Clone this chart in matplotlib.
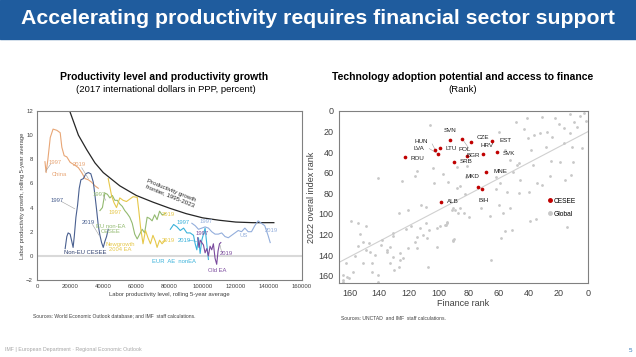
import matplotlib
matplotlib.use("Agg")
import matplotlib.pyplot as plt
from matplotlib.patches import Rectangle
from matplotlib.lines import Line2D

plt.rcParams['font.family'] = ['Liberation Sans', 'DejaVu Sans']

# ---- left chart data (productivity level, growth) ----
frontier_x = [20000, 25000, 30000, 35000, 40000, 50000, 60000, 70000, 80000, 90000, 100000, 110000, 120000, 130000, 143000]
frontier_y = [11.9, 10.0, 8.8, 7.7, 6.9, 5.8, 5.0, 4.45, 3.95, 3.5, 3.15, 2.95, 2.8, 2.75, 2.75]

china_x = [4800, 5500, 6500, 8000, 9700, 12000, 14000, 15000, 16400, 18000, 20000, 23000, 25000, 27000, 29000, 31000, 33000, 35000, 37000]
china_y = [7.8, 6.9, 7.9, 9.8, 10.5, 10.4, 10.2, 9.0, 8.3, 8.2, 7.75, 7.5, 7.3, 6.9, 6.4, 6.3, 6.1, 5.8, 5.6]

noneu_x = [17000, 18000, 18800, 20000, 21000, 21800, 22500, 23500, 24500, 25500, 26500, 28000, 29500, 31000, 32500, 34000, 35000, 36000, 37000, 38000, 39000, 40000, 41000, 42000, 43000]
noneu_y = [0.6, 1.6, 1.9, 1.8, 1.2, 0.7, 1.6, 3.2, 4.2, 5.6, 6.3, 6.4, 6.8, 6.9, 6.8, 6.1, 5.0, 3.8, 2.5, 1.7, 1.1, 0.7, 1.2, 1.6, 2.2]

eunonea_x = [38000, 39500, 41000, 42500, 44000, 45500, 47000, 48500, 50000, 51500, 53000, 54500, 56000, 57500, 59000, 60500, 62000, 63500, 65000, 66500, 68000, 69500, 71000, 72500, 74000, 75500, 77500]
eunonea_y = [3.75, 4.0, 5.2, 5.1, 4.8, 5.0, 4.6, 4.6, 4.3, 4.1, 3.75, 3.5, 3.2, 2.7, 1.8, 1.4, 1.8, 2.2, 1.9, 3.2, 3.1, 2.9, 3.4, 3.0, 3.7, 3.4, 3.5]

newgrowth_x = [43000, 44000, 45000, 46500, 48000, 50000, 52000, 54000, 56000, 58000, 60500, 61500, 62500, 64000, 65500, 67000, 68500, 70000, 71500, 72500, 74000, 75500, 77500]
newgrowth_y = [6.4, 5.7, 5.0, 4.4, 4.0, 4.8, 4.6, 4.5, 4.7, 4.9, 4.85, 3.7, 2.4, 1.0, 2.1, 1.5, 1.0, 1.7, 1.2, 0.7, 1.3, 1.0, 1.3]

euae_x = [80500, 82500, 84500, 86500, 88500, 90500, 92500, 94500, 95500, 96500, 97500, 98500, 99500, 100500, 101500, 102500, 103500]
euae_y = [2.2, 2.6, 2.4, 2.1, 2.3, 1.9, 1.9, 1.7, 1.0, 0.5, 1.5, 0.2, 1.3, 1.8, 2.3, 1.0, -0.3]

us_x = [93500, 95500, 97500, 99500, 101500, 103500, 105500, 107500, 109500, 111500, 113500, 115500, 117500, 119500, 121500, 123500, 125500, 127500, 129500, 131500, 133500, 135500, 137500, 139500, 140800]
us_y = [2.7, 2.5, 2.2, 2.3, 2.4, 2.3, 2.0, 1.8, 1.8, 1.9, 1.6, 1.5, 1.7, 1.9, 2.1, 2.0, 2.3, 2.0, 2.0, 2.5, 2.9, 2.7, 2.5, 1.7, 1.1]

oldea_x = [97000, 97800, 98600, 99500, 100500, 101500, 102500, 103500, 104500, 105500, 106500, 107500, 108500, 109300, 110200, 111000]
oldea_y = [1.5, 0.7, 1.3, 1.1, 0.9, 0.25, 0.6, 0.0, 0.8, 0.5, 1.0, -0.2, -0.7, 0.4, 1.0, 1.1]

left_xticks = [0, 20000, 40000, 60000, 80000, 100000, 120000, 140000, 160000]
left_yticks = [-2, 0, 2, 4, 6, 8, 10, 12]

# ---- right chart data (ranks) ----
global_x = [105.8, 141, 124.5, 114.5, 115.8, 103.7, 97, 93.7, 87.7, 81, 81.7, 159, 154, 148.6, 153, 151, 154, 147,
            146, 148.6, 156, 151, 162.6, 164.6, 161.3, 164, 160, 157.6, 164.6, 139, 142.6, 144.6, 141, 144.6, 140.6,
            138, 134.5, 135, 133, 131, 131, 133, 130.5, 129.9, 125.8, 126.5, 127, 121, 121.8, 118.5, 125.8, 123.8,
            121, 115.8, 115, 114.5, 113, 111.8, 108.4, 108.4, 110.4, 107.7, 106.4, 107, 101, 101, 99, 95, 94.4, 90.4,
            91, 90.4, 89, 87.7, 85.7, 82.3, 85.7, 83, 79.6, 103, 89.7,
            48.2, 40.8, 30.8, 22, 12, 5.4, 2.7, 1.3, 9.4, 19.4, 16, 7.4, 60, 42.8, 36, 32, 27.4, 24, 12, 40, 16, 10.7,
            4, 28, 38, 46, 47.5, 36.8, 24.8, 18.7, 10, 50, 45.5, 25.4, 15.4, 11.4, 30.8, 34, 39.5, 46, 54, 62, 62, 59,
            52, 59.6, 57, 66, 72, 87, 94.4, 95.7, 38.8, 34.8, 14, 51, 55.6, 58.2, 90.4, 65, 55.6, 52]
global_y = [13.6, 65, 68, 58, 63, 55.5, 61, 69, 54, 53, 64, 107, 109, 112, 119, 127, 131, 128,
            137, 135, 141, 148, 148, 159, 161, 164, 162, 156, 166, 130, 140, 148, 159, 156, 166,
            125, 135, 137, 132, 118, 121, 148, 142, 154, 145, 151, 99, 96, 115, 112, 138, 143,
            133, 127, 133, 122, 114, 91, 93, 109, 120, 123, 116, 151, 114, 132, 112, 111, 109, 125,
            96, 94, 96, 75, 73, 81, 94, 99, 103, 70, 124,
            10.7, 6.8, 5.8, 6.8, 2.9, 4.9, 2, 9.7, 10.7, 12.6, 16.5, 15.5, 20, 17.5, 23.3, 21.4, 20.4, 25, 21.4, 26, 31, 34.6,
            36, 35, 37.8, 50.5, 52.4, 52.4, 48.5, 49.5, 49.5, 59, 67, 63, 67, 62, 72, 70, 78.6, 79.6, 78.6, 75.7, 64, 70,
            94, 91, 99, 102, 94, 99, 107.5, 110.7, 107, 105, 112.6, 115.5, 116.5, 123, 126, 144.7, 37.9, 47.6]

cesee_names = ['SVN', 'LTU', 'HUN', 'LVA', 'ROU', 'SRB', 'ALB', 'POL', 'BGR', 'CZE', 'HRV', 'EST', 'SVK', 'MNE', 'MKD', 'BIH']
cesee_x = [92.4, 99.0, 102.4, 100.4, 122.5, 89.7, 98.4, 81.0, 70.3, 78.3, 84.3, 64.3, 61.0, 68.3, 73.6, 71.0]
cesee_y = [28.2, 36.0, 37.9, 41.7, 44.7, 49.5, 88.3, 43.7, 41.7, 30.0, 27.2, 29.0, 39.6, 59.0, 74.0, 76.0]

trend_x = [167, 0]
trend_y = [147, 20]

rank_ticks = [0, 20, 40, 60, 80, 100, 120, 140, 160]

W, H = 636, 357
fig = plt.figure(figsize=(6.36, 3.57), dpi=100)

# banner
fig.patches.append(Rectangle((0, 1 - 39 / H), 1, 39 / H, transform=fig.transFigure, color='#1F5C9E', zorder=0))
fig.text(318 / W, 1 - 19 / H, 'Accelerating productivity requires financial sector support', color='white',
         fontsize=15.3, fontweight='bold', ha='center', va='center')

# sub titles
fig.text(164 / W, 1 - 77 / H, 'Productivity level and productivity growth', fontsize=7.5, fontweight='bold', ha='center', va='center')
fig.text(166 / W, 1 - 90 / H, '(2017 international dollars in PPP, percent)', fontsize=6.8, ha='center', va='center')
fig.text(463 / W, 1 - 77 / H, 'Technology adoption potential and access to finance', fontsize=7.5, fontweight='bold', ha='center', va='center')
fig.text(463 / W, 1 - 90 / H, '(Rank)', fontsize=6.8, ha='center', va='center')

# ---------------- left chart ----------------
ax1 = fig.add_axes([37 / W, 1 - 280 / H, 265 / W, 169 / H])
ax1.axhline(0, color='#D9D9D9', lw=1.5, zorder=1)
ax1.plot(frontier_x, frontier_y, color='#262626', lw=0.9)
ax1.plot(china_x, china_y, color='#E8A676', lw=0.8)
ax1.plot(noneu_x, noneu_y, color='#4A6090', lw=0.8)
ax1.plot(eunonea_x, eunonea_y, color='#93BA70', lw=0.8)
ax1.plot(newgrowth_x, newgrowth_y, color='#E6C84A', lw=0.8)
ax1.plot(euae_x, euae_y, color='#3BB2DA', lw=0.8)
ax1.plot(us_x, us_y, color='#93AEDC', lw=0.8)
ax1.plot(oldea_x, oldea_y, color='#7B4B9E', lw=0.8)

ax1.set_xlim(0, 160000)
ax1.set_ylim(-2, 12)
ax1.set_xticks(left_xticks)
ax1.set_yticks(left_yticks)
ax1.tick_params(labelsize=4.3, length=0, pad=3, colors='#404040')
for s in ax1.spines.values():
    s.set_color('#808080')
    s.set_linewidth(0.8)
ax1.set_xlabel('Labor productivity level, rolling 5-year average', fontsize=4.2, labelpad=2, color='#404040')
ax1.set_ylabel('Labor productivity growth, rolling 5-year average', fontsize=4.2, labelpad=1, color='#404040')

fs = 4.2
def lab(x, y, t, c, **kw):
    ax1.text(x, y, t, color=c, fontsize=fs, ha='center', va='center', **kw)

def leader(x0, y0, x1, y1, c):
    ax1.plot([x0, x1], [y0, y1], color=c, lw=0.4)

lab(11000, 7.7, '1997', '#E8A676')
leader(8200, 7.6, 5200, 7.0, '#A0A0A0')
lab(13500, 6.7, 'China', '#E8A676')
lab(25500, 7.6, '2019', '#E8A676')
leader(27000, 7.3, 31000, 6.4, '#A0A0A0')
lab(12000, 4.6, '1997', '#4A6090')
leader(14800, 4.5, 22800, 3.9, '#A0A0A0')
lab(31000, 2.75, '2019', '#4A6090')
leader(33500, 2.6, 37500, 1.7, '#A0A0A0')
lab(29000, 0.25, 'Non-EU CESEE', '#2E3F6E')
lab(37600, 5.1, '1997', '#93BA70')
leader(40000, 5.0, 41500, 4.6, '#A0A0A0')
lab(44500, 2.2, 'EU non-EA\nCESEE', '#93BA70', linespacing=1.0)
lab(47300, 3.6, '1997', '#E6C84A')
lab(50000, 0.75, 'Newgrowth\n2004 EA', '#E6C84A', linespacing=1.0)
lab(79200, 3.45, '2019', '#E6C84A')
lab(79200, 1.3, '2019', '#E6C84A')
lab(88000, 2.75, '1997', '#3BB2DA')
lab(89000, 1.3, '2019', '#3BB2DA')
leader(91500, 1.3, 96300, 1.2, '#3BB2DA')
lab(82500, -0.45, 'EUR  AE  nonEA', '#3BB2DA')
lab(102000, 2.85, '1997', '#93AEDC')
lab(125000, 1.7, 'US', '#93AEDC')
lab(141500, 2.1, '2019', '#93AEDC')
lab(99500, 1.85, '1997', '#7B4B9E')
lab(114000, 0.2, '2019', '#7B4B9E')
leader(111500, 0.3, 110500, 0.9, '#A0A0A0')
lab(109000, -1.25, 'Old EA', '#7B4B9E')
ax1.text(80600, 5.2, 'Productivity growth\nfrontier, 1995-2023', fontsize=4.5, rotation=-22,
         ha='center', va='center', color='#262626', linespacing=1.0)

# ---------------- right chart ----------------
ax2 = fig.add_axes([339 / W, 1 - 283 / H, 249 / W, 172 / H])
ax2.plot(trend_x, trend_y, color='#D0D0D0', lw=0.8, zorder=1)
ax2.scatter(global_x, global_y, s=4, color='#C8C8C8', linewidths=0, zorder=2)
ax2.scatter(cesee_x, cesee_y, s=7, color='#C00000', linewidths=0, zorder=3)

offsets = {'SVN': (0, 7, 'center'), 'LTU': (4, 0, 'left'), 'HUN': (-5, 6, 'right'), 'LVA': (-10, 4, 'right'),
           'ROU': (4, -1, 'left'), 'SRB': (4, 0, 'left'), 'ALB': (4, 0, 'left'), 'POL': (-2, 5, 'center'),
           'BGR': (-2, -1, 'right'), 'CZE': (4, 3, 'left'), 'HRV': (13, -5, 'left'), 'EST': (5, 0, 'left'),
           'SVK': (4, -1, 'left'), 'MNE': (5, 0, 'left'), 'MKD': (-4, 8, 'center'), 'BIH': (1, -8, 'center')}
for n, x, y in zip(cesee_names, cesee_x, cesee_y):
    dx, dy, ha = offsets[n]
    ax2.annotate(n, (x, y), xytext=(dx, dy), textcoords='offset points', fontsize=4.5, ha=ha, va='center', color='#202020')
ax2.plot([102.4, 104.5], [37.9, 32.0], color='#A0A0A0', lw=0.4)
ax2.plot([100.4, 106.5], [41.7, 36.5], color='#A0A0A0', lw=0.4)
ax2.plot([84.3, 80.0], [27.2, 36.0], color='#A0A0A0', lw=0.4)

ax2.set_xlim(167, 0)
ax2.set_ylim(167, 0)
ax2.set_xticks(rank_ticks)
ax2.set_yticks(rank_ticks)
ax2.tick_params(labelsize=6.5, length=0, pad=4, colors='#404040')
for s in ax2.spines.values():
    s.set_color('#808080')
    s.set_linewidth(0.8)
ax2.set_xlabel('Finance rank', fontsize=6.5, labelpad=1, color='#404040')
ax2.set_ylabel('2022 overal index rank', fontsize=6.5, labelpad=2, color='#404040')

handles = [Line2D([], [], marker='o', ls='', color='#C00000', markersize=2.5, label='CESEE'),
           Line2D([], [], marker='o', ls='', color='#C8C8C8', markersize=2.5, label='Global')]
ax2.legend(handles=handles, loc='upper left', bbox_to_anchor=(0.82, 0.515), frameon=False, fontsize=4.8,
           handletextpad=0.1, handlelength=1.0, labelspacing=0.9, borderpad=0)

# sources and footer
fig.text(33 / W, 1 - 316 / H, 'Sources: World Economic Outlook database; and IMF  staff calculations.', fontsize=3.6, va='center', color='#404040')
fig.text(341 / W, 1 - 318 / H, 'Sources: UNCTAD  and IMF  staff calculations.', fontsize=3.6, va='center', color='#404040')
fig.text(5 / W, 1 - 350 / H, 'IMF | European Department \u00b7 Regional Economic Outlook', fontsize=3.8, va='center', color='#A6A6A6')
fig.text(630 / W, 1 - 350 / H, '5', fontsize=4.5, va='center', ha='center', color='#2E75B6')

fig.savefig('out.png', dpi=100)
